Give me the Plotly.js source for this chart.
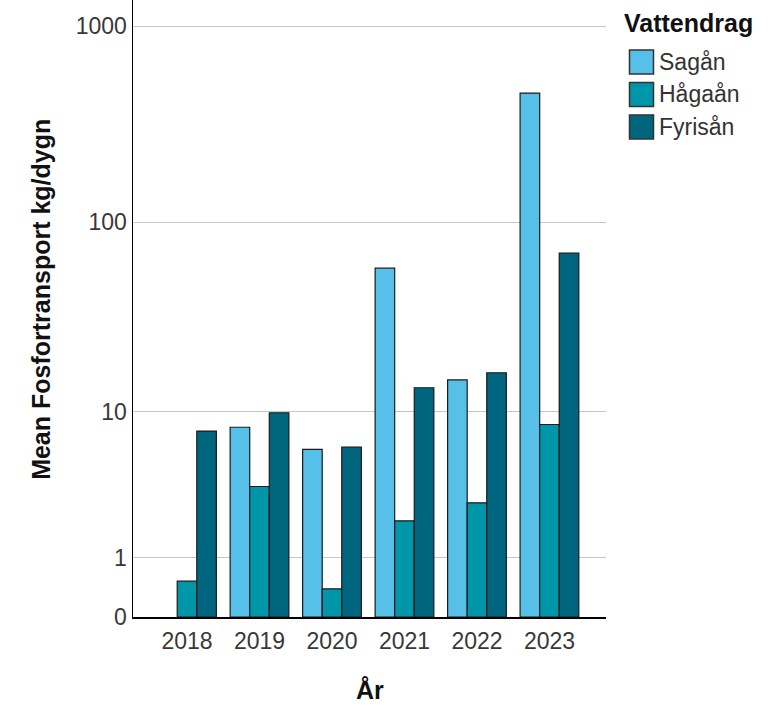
<!DOCTYPE html>
<html>
<head>
<meta charset="utf-8">
<script src="https://cdn.plot.ly/plotly-3.0.1.min.js"></script>
<style>
html,body{margin:0;padding:0;background:#fff;}
#chart{width:773px;height:705px;}
</style>
</head>
<body>
<div id="chart"></div>
<script>
// Data (mean kg/dygn)
const years = ['2018', '2019', '2020', '2021', '2022', '2023'];
const sagan  = [null, 8.2, 6.1, 58.1, 15.0, 457];
const hagaan = [0.52, 3.6, 0.39, 2.08, 2.8, 8.5];
const fyrisan = [7.8, 9.9, 6.3, 13.6, 16.4, 69.4];
const seriesNames = ['Sagån', 'Hågaån', 'Fyrisån'];
const tickValuesRaw = [0, 1, 10, 100, 1000];
const tickLabels = ['0', '1', '10', '100', '1000'];
const legendTitle = 'Vattendrag';
const xTitle = 'År';
const yTitle = 'Mean Fosfortransport kg/dygn';

// The chart uses a log10(1 + x) scale
const tf = v => (v === null ? null : Math.log10(1 + v));

const colors = ['#56C0E8', '#0096AA', '#00667F'];
const allSeries = [sagan, hagaan, fyrisan];

const traces = allSeries.map((s, i) => ({
  type: 'bar',
  name: seriesNames[i],
  x: years,
  y: s.map(tf),
  customdata: s,
  hovertemplate: '%{customdata}<extra>' + seriesNames[i] + '</extra>',
  showlegend: false,
  marker: { color: colors[i], line: { color: '#1a1a1a', width: 1.2 } }
}));

const font = 'Arial, "Liberation Sans", sans-serif';

// plot area in pixels
const L = 133, R = 606, T = 0, B = 617.3;
const px = x => (x - L) / (R - L);
const py = y => (B - y) / (B - T);

const shapes = [];
const annotations = [];
// legend (manual, to match large swatches)
annotations.push({
  xref: 'paper', yref: 'paper', x: px(622), y: py(23), xanchor: 'left', yanchor: 'middle',
  text: '<b>' + legendTitle + '</b>', showarrow: false,
  font: { family: font, size: 25, color: '#111' }
});
seriesNames.forEach((n, i) => {
  const top = 50 + i * 32.5, bot = top + 24;
  shapes.push({
    type: 'rect', xref: 'paper', yref: 'paper',
    x0: px(629.5), x1: px(653.5), y0: py(bot), y1: py(top),
    fillcolor: colors[i], line: { color: '#333', width: 1.5 }
  });
  annotations.push({
    xref: 'paper', yref: 'paper', x: px(657), y: py((top + bot) / 2), xanchor: 'left', yanchor: 'middle',
    text: n, showarrow: false, font: { family: font, size: 23, color: '#333' }
  });
});
// axis titles
annotations.push({
  xref: 'paper', yref: 'paper', x: px(41), y: py(300), xanchor: 'center', yanchor: 'middle',
  text: '<b>' + yTitle + '</b>', textangle: -90, showarrow: false,
  font: { family: font, size: 25, color: '#111' }
});
annotations.push({
  xref: 'paper', yref: 'paper', x: px(370), y: py(690), xanchor: 'center', yanchor: 'middle',
  text: '<b>' + xTitle + '</b>', showarrow: false,
  font: { family: font, size: 25, color: '#111' }
});

const layout = {
  width: 773, height: 705,
  margin: { l: L, r: 773 - R, t: T, b: 705 - B },
  paper_bgcolor: '#ffffff', plot_bgcolor: '#ffffff',
  barmode: 'group', bargap: 0.19, bargroupgap: 0,
  font: { family: font, size: 23, color: '#333333' },
  xaxis: {
    type: 'category',
    range: [-0.745, 5.78],
    showline: true, linecolor: '#000', linewidth: 1.5,
    showgrid: false, ticks: '', zeroline: false,
    ticklabelstandoff: 3,
    tickfont: { size: 23, color: '#383838' }
  },
  yaxis: {
    range: [0, 3.1335],
    showline: true, linecolor: '#000', linewidth: 1.5,
    showgrid: true, gridcolor: '#c6c6c6', gridwidth: 1,
    zeroline: false, ticks: '',
    tickmode: 'array',
    tickvals: tickValuesRaw.map(tf),
    ticktext: tickLabels,
    tickfont: { size: 23, color: '#383838' }
  },
  showlegend: false,
  shapes: shapes,
  annotations: annotations
};

Plotly.newPlot('chart', traces, layout, { displayModeBar: false, staticPlot: true });
</script>
</body>
</html>
